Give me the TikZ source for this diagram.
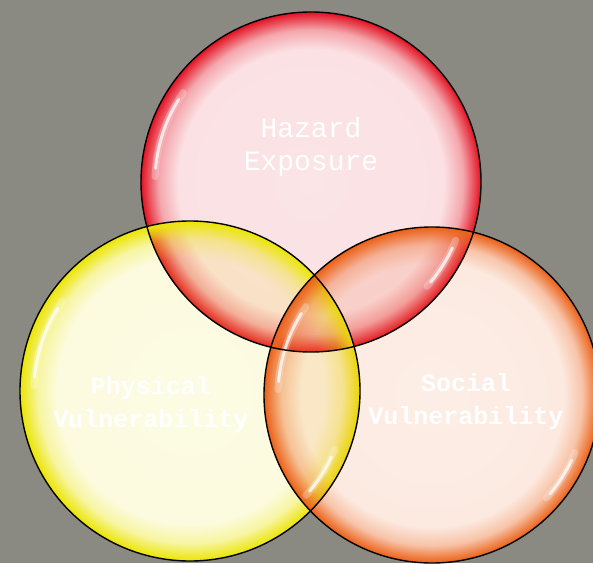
\documentclass[tikz,border=0pt]{standalone}
\usepackage{fontspec}
\usetikzlibrary{fadings}
\newfontfamily\labelfont{Liberation Mono}
\definecolor{bgcol}{RGB}{138,137,130}
\definecolor{redtint}{RGB}{228,24,40}
\definecolor{yeltint}{RGB}{236,230,10}
\definecolor{orgtint}{RGB}{236,100,28}
\pgfdeclareradialshading{rimfadeshade}{\pgfpoint{0bp}{0bp}}{color(0bp)=(pgftransparent!89); color(19.5bp)=(pgftransparent!87); color(22.3bp)=(pgftransparent!62); color(23.9bp)=(pgftransparent!22); color(24.8bp)=(pgftransparent!0); color(50bp)=(pgftransparent!0)}
\pgfdeclarefading{rimfade}{\pgfuseshading{rimfadeshade}}
\tikzset{
  ballrim/.style={draw=black, line width=1.4pt},
  tint/.style={fill=#1, path fading=rimfade},
  gloss/.style={white, line cap=round, line width=3pt, opacity=0.75},
  glosswide/.style={white, line cap=round, line width=7pt, opacity=0.25},
  vennlabel/.style={text=white, align=center}
}
\begin{document}
\begin{tikzpicture}[x=1pt,y=1pt]
\useasboundingbox (0,0) rectangle (593,563);
\fill[bgcol] (0,0) rectangle (593,563);
\clip (0,0) rectangle (593,563);
\coordinate (hz) at (311,381);
\coordinate (ph) at (190,172);
\coordinate (so) at (432,168);
% white bases
\fill[white] (hz) circle[radius=170];
\fill[white] (ph) circle[radius=170];
\fill[white] (so) circle[radius=168];
% coloured tints, strongest at the rims
\fill[tint=redtint] (hz) circle[radius=170];
\fill[tint=yeltint] (ph) circle[radius=170];
\fill[tint=orgtint] (so) circle[radius=168];
% gloss highlights
\foreach \c/\r in {hz/156, ph/156, so/154}{
  \draw[glosswide] ([shift={(145:\r)}]\c) arc[start angle=145, end angle=178, radius=\r];
  \draw[gloss] ([shift={(148:\r)}]\c) arc[start angle=148, end angle=175, radius=\r];
  \draw[glosswide] ([shift={(-22:\r)}]\c) arc[start angle=-22, end angle=-42, radius=\r];
  \draw[gloss] ([shift={(-25:\r)}]\c) arc[start angle=-25, end angle=-40, radius=\r];
}
% rims
\draw[ballrim] (hz) circle[radius=170];
\draw[ballrim] (ph) circle[radius=170];
\draw[ballrim] (so) circle[radius=168];
% labels
\node[vennlabel, font=\labelfont\fontsize{28}{33}\selectfont] (hzl) at (311,416) {Hazard\\Exposure};
\node[vennlabel, font=\labelfont\bfseries\fontsize{25}{33}\selectfont] (phl) at (151,158) {Physical\\Vulnerability};
\node[vennlabel, font=\labelfont\bfseries\fontsize{25}{33}\selectfont] (sol) at (466,161) {Social\\Vulnerability};
\end{tikzpicture}
\end{document}
